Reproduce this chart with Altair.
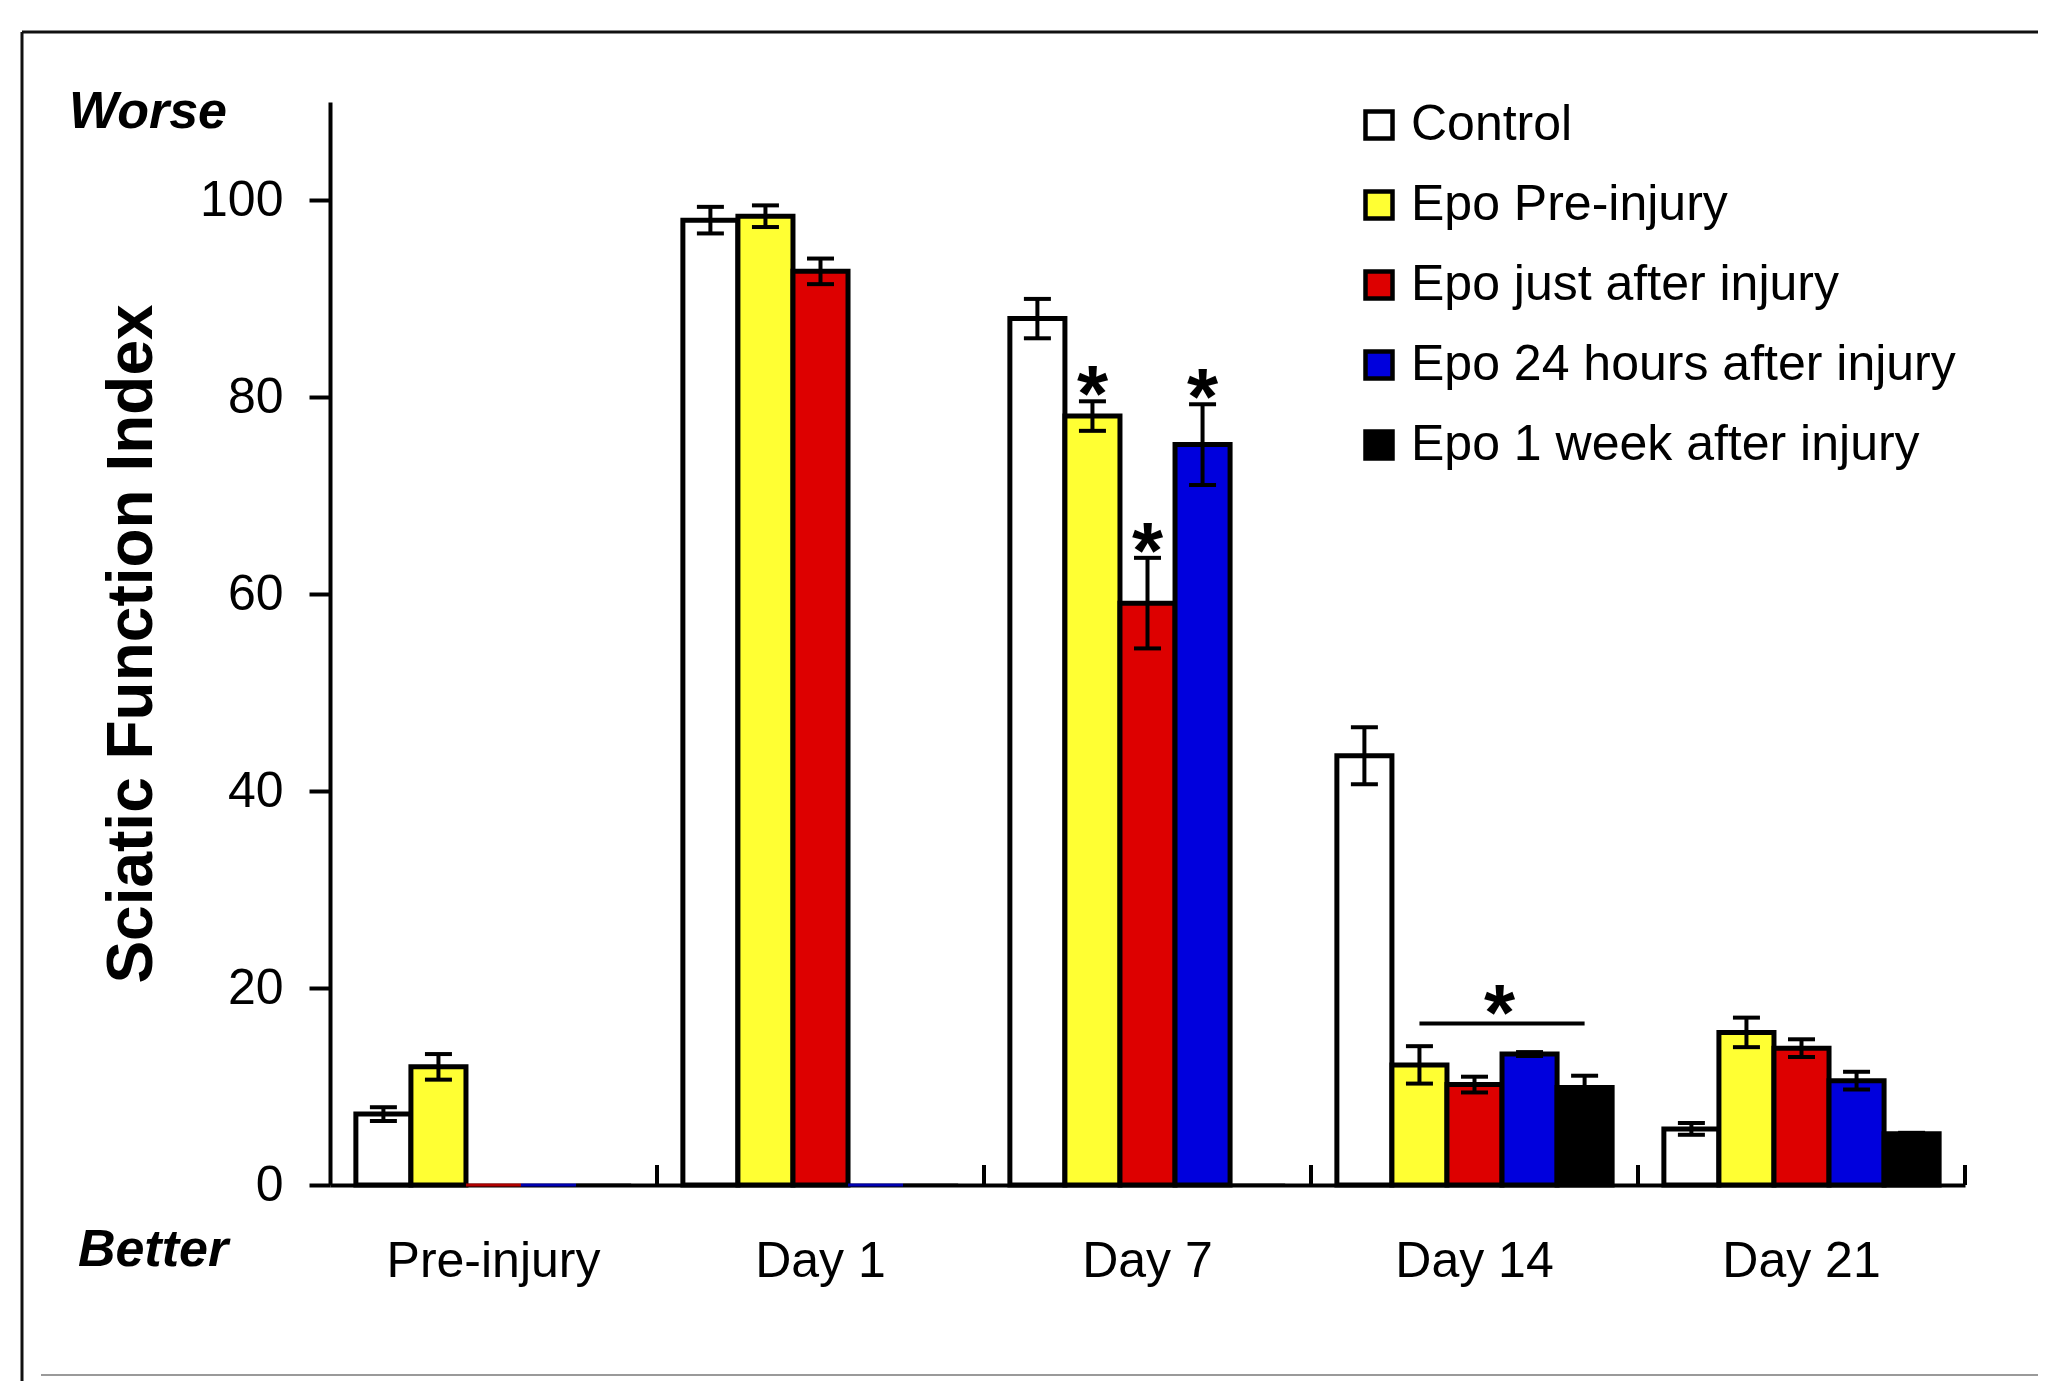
import altair as alt
import pandas as pd

# ---------------- data ----------------
groups = ["Pre-injury", "Day 1", "Day 7", "Day 14", "Day 21"]
series = ["Control", "Epo Pre-injury", "Epo just after injury",
          "Epo 24 hours after injury", "Epo 1 week after injury"]
colors = ["#FFFFFF", "#FFFF33", "#DD0000", "#0000DD", "#000000"]

control_mean = [7.2, 98.0, 88.0, 43.6, 5.7]
control_err = [0.7, 1.35, 2.0, 2.9, 0.6]
pre_mean = [12.0, 98.4, 78.1, 12.2, 15.5]
pre_err = [1.3, 1.1, 1.5, 1.9, 1.5]
just_mean = [0, 92.8, 59.1, 10.2, 13.9]
just_err = [0, 1.3, 4.6, 0.8, 0.9]
h24_mean = [0, 0, 75.2, 13.3, 10.6]
h24_err = [0, 0, 4.1, 0.2, 0.9]
w1_mean = [0, 0, 0, 9.9, 5.2]
w1_err = [0, 0, 0, 1.2, 0.1]

star_points = [("Day 7", "Epo Pre-injury"),
               ("Day 7", "Epo just after injury"),
               ("Day 7", "Epo 24 hours after injury")]
bracket_group = "Day 14"
bracket_from = "Epo Pre-injury"
bracket_to = "Epo 1 week after injury"
bracket_star_series = "Epo 24 hours after injury"
bracket_y = 16.4

means = [control_mean, pre_mean, just_mean, h24_mean, w1_mean]
errs = [control_err, pre_err, just_err, h24_err, w1_err]

rows = []
for s, ml, el in zip(series, means, errs):
    for g, m, e in zip(groups, ml, el):
        rows.append(dict(group=g, series=s, mean=m, lo=m - e, hi=m + e, err=e))
df = pd.DataFrame(rows)
bars_df = df[df["mean"] > 0]
zero_df = df[df["mean"] == 0]
err_df = df[df["err"] > 0]
star_df = df[[(g, s) in star_points for g, s in zip(df["group"], df["series"])]]
bracket_df = pd.DataFrame({"group": [bracket_group] * 2,
                           "series": [bracket_from, bracket_to],
                           "y": [bracket_y] * 2})
bracket_star_df = pd.DataFrame({"group": [bracket_group],
                                "series": [bracket_star_series],
                                "y": [bracket_y], "t": ["*"]})

# ---------------- layout ----------------
W, H = 1635, 1083
FONT = "Liberation Sans"

x_scale = alt.Scale(domain=groups, paddingInner=0, paddingOuter=0)
xo_scale = alt.Scale(domain=series, paddingInner=0, paddingOuter=0.47)
y_scale = alt.Scale(domain=[0, 110], nice=False, zero=True)

x_axis = alt.Axis(title=None, ticks=False, domainColor="black", domainWidth=4,
                  labelFont=FONT, labelFontSize=50, labelColor="black",
                  labelAngle=0, labelBaseline="alphabetic", labelPadding=91,
                  labelLimit=2000)
y_axis = alt.Axis(title="Sciatic Function Index", values=[0, 20, 40, 60, 80, 100],
                  grid=False, domainColor="black", domainWidth=4,
                  tickColor="black", tickWidth=4, tickSize=21,
                  labelFont=FONT, labelFontSize=50, labelColor="black",
                  labelPadding=26, labelFlush=False, labelOverlap=False,
                  titleFont=FONT, titleFontSize=64, titleFontWeight="bold",
                  titleColor="black", titleAngle=270, titleX=-179, titleY=H / 2,
                  titleAlign="center", titleBaseline="alphabetic")

X = alt.X("group:N", scale=x_scale, axis=x_axis, sort=groups)
XO = alt.XOffset("series:N", scale=xo_scale, sort=series)


def make_legend():
    return alt.Legend(orient="none", legendX=1024, legendY=-2,
                      title=None, symbolType="square",
                      symbolSize=729, symbolStrokeWidth=4.5, labelFont=FONT,
                      labelFontSize=50, labelColor="black",
                      labelLimit=2000, rowPadding=30,
                      labelOffset=7, padding=0)


bars = alt.Chart(bars_df).mark_bar(strokeWidth=5).encode(
    x=X, xOffset=XO,
    y=alt.Y("mean:Q", scale=y_scale, axis=y_axis),
    fill=alt.Fill("series:N", scale=alt.Scale(domain=series, range=colors),
                  sort=series, legend=make_legend()),
    stroke=alt.Stroke("series:N", scale=alt.Scale(domain=series, range=["#000000"] * 5),
                      sort=series, legend=make_legend()),
)

zero_bars = alt.Chart(zero_df).mark_bar(strokeWidth=3, filled=False, opacity=0.8).encode(
    x=X, xOffset=XO,
    y=alt.Y("mean:Q", scale=y_scale, axis=y_axis),
    color=alt.Color("series:N", scale=alt.Scale(domain=series, range=colors),
                    legend=None),
)

err_rules = alt.Chart(err_df).mark_rule(color="black", strokeWidth=4).encode(
    x=X, xOffset=XO,
    y=alt.Y("lo:Q", scale=y_scale, axis=y_axis), y2="hi:Q",
)

err_caps = alt.Chart(err_df).transform_fold(["lo", "hi"], as_=["k", "v"]).mark_tick(
    color="black", thickness=4, size=27, opacity=1).encode(
    x=X, xOffset=XO,
    y=alt.Y("v:Q", scale=y_scale, axis=y_axis),
)

stars = alt.Chart(star_df).mark_text(
    text="*", font=FONT, fontSize=80, fontWeight="bold", color="black",
    baseline="alphabetic", dy=20).encode(
    x=X, xOffset=XO,
    y=alt.Y("hi:Q", scale=y_scale, axis=y_axis),
)

bracket = alt.Chart(bracket_df).mark_line(color="black", strokeWidth=4).encode(
    x=X, xOffset=XO,
    y=alt.Y("y:Q", scale=y_scale, axis=y_axis),
)

bracket_star = alt.Chart(bracket_star_df).mark_text(
    font=FONT, fontSize=80, fontWeight="bold", color="black",
    baseline="alphabetic", dy=16, dx=-30).encode(
    x=X, xOffset=XO,
    y=alt.Y("y:Q", scale=y_scale, axis=y_axis),
    text="t:N",
)

group_ticks = alt.Chart(pd.DataFrame({"group": groups})).mark_rule(
    color="black", strokeWidth=4).encode(
    x=alt.X("group:N", scale=x_scale, axis=x_axis, sort=groups, bandPosition=1),
    y=alt.value(H - 20), y2=alt.value(H),
)

one = pd.DataFrame({"a": [1]})
frame_top = alt.Chart(one).mark_rule(color="#111111", strokeWidth=3).encode(
    x=alt.value(-308), x2=alt.value(W + 75), y=alt.value(-70))
frame_left = alt.Chart(one).mark_rule(color="#111111", strokeWidth=3).encode(
    x=alt.value(-308), y=alt.value(-70), y2=alt.value(H + 200))
frame_bottom = alt.Chart(one).mark_rule(color="#9a9a9a", strokeWidth=2).encode(
    x=alt.value(-289), x2=alt.value(W + 75), y=alt.value(1273))

worse = alt.Chart(pd.DataFrame({"t": ["Worse"]})).mark_text(
    font=FONT, fontSize=52, fontWeight="bold", fontStyle="italic",
    color="black", align="center", baseline="alphabetic").encode(
    x=alt.value(-182), y=alt.value(26), text="t:N")
better = alt.Chart(pd.DataFrame({"t": ["Better"]})).mark_text(
    font=FONT, fontSize=52, fontWeight="bold", fontStyle="italic",
    color="black", align="center", baseline="alphabetic").encode(
    x=alt.value(-177), y=alt.value(1164), text="t:N")

chart = alt.layer(
    frame_top, frame_left, frame_bottom,
    bars, zero_bars, err_rules, err_caps, stars, bracket, bracket_star,
    group_ticks, worse, better,
).properties(
    width=W, height=H,
    padding={"left": 322, "top": 94, "right": 73, "bottom": 196},
    autosize=alt.AutoSizeParams(type="none"),
    background="white",
).configure(font=FONT).configure_view(stroke=None)

chart.save("out.html", embed_options={"renderer": "svg", "actions": False})
